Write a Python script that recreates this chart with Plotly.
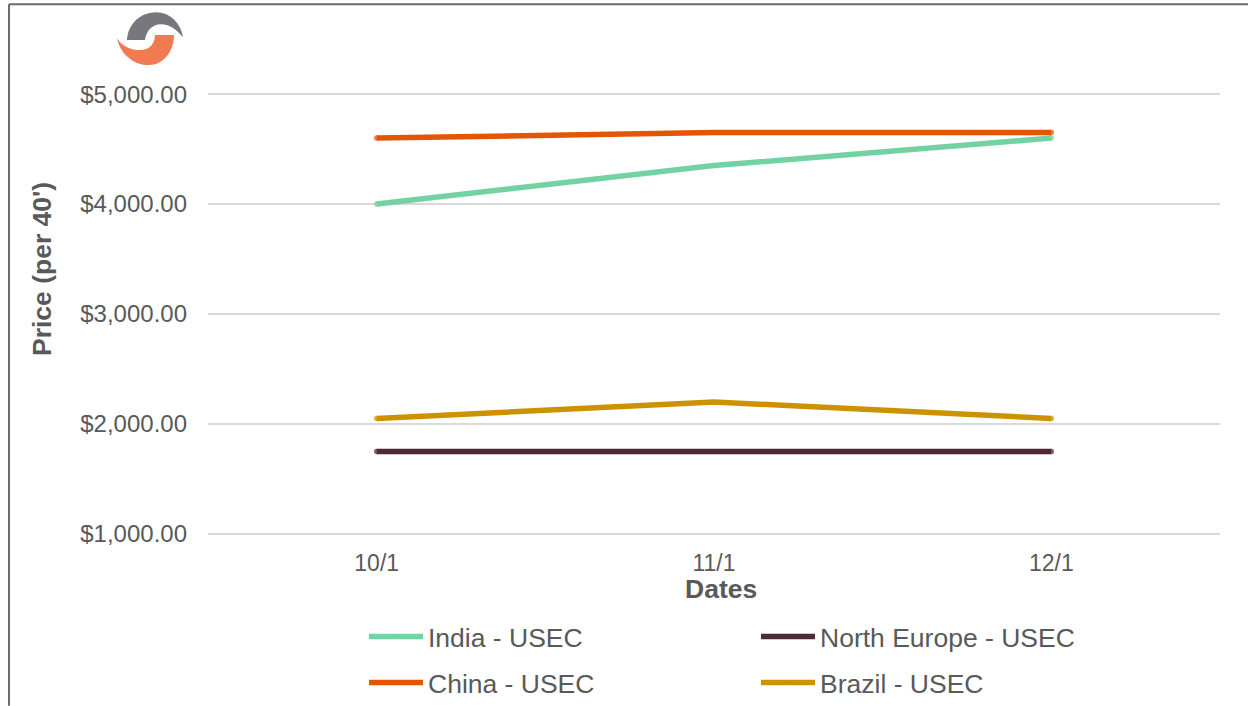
import plotly.graph_objects as go

# Freight rates by lane, per 40' container
dates = ["10/1", "11/1", "12/1"]
india_usec = [4000, 4350, 4600]
north_europe_usec = [1750, 1750, 1750]
china_usec = [4600, 4650, 4650]
brazil_usec = [2050, 2200, 2050]

WIDTH, HEIGHT = 1248, 706
# The value axis runs a little past 1,000 and 5,000 so both outer gridlines are drawn
Y_MIN, Y_MAX = 990, 5010
LEFT, RIGHT, TOP, BOTTOM = 208, 28, 92.9, 170.9
PLOT_W = WIDTH - LEFT - RIGHT
PLOT_H = HEIGHT - TOP - BOTTOM
TEXT = "#595959"
LINE_W = 5.5


def px(x):
    return (x - LEFT) / PLOT_W


def py(y):
    return 1 - (y - TOP) / PLOT_H


def path(template, points):
    return template.format(*[f"{px(x):.5f},{py(y):.5f}" for x, y in points])


fig = go.Figure()
for name, values, color, legend_row in [
    ("India - USEC", india_usec, "#72D2A1", "legend"),
    ("North Europe - USEC", north_europe_usec, "#4E2A38", "legend"),
    ("China - USEC", china_usec, "#E25606", "legend2"),
    ("Brazil - USEC", brazil_usec, "#CD9200", "legend2"),
]:
    # Same-width dots at both ends round off each line
    fig.add_trace(go.Scatter(
        x=dates, y=values, name=name, mode="lines+markers", legend=legend_row,
        line=dict(color=color, width=LINE_W),
        marker=dict(color=color, size=[LINE_W, 0, LINE_W], line=dict(width=0)),
    ))

logo_grey = path(
    "M {} C {} {} {} C {} {} {} C {} {} {} C {} {} {} L {} Z",
    [(127, 40), (128, 23), (141, 12), (156, 12),
     (171, 12), (181, 24), (183, 37),
     (177, 30), (170, 24), (161, 24),
     (152, 24), (146, 31), (145, 40),
     (127, 40)],
)
logo_orange = path(
    "M {} C {} {} {} C {} {} {} L {} C {} {} {} C {} {} {} Z",
    [(117, 38), (122, 46), (131, 50), (140, 50),
     (149, 50), (155, 44), (155, 35),
     (174, 35),
     (174, 52), (163, 65), (149, 65),
     (133, 65), (120, 53), (117, 38)],
)

row_legend = dict(
    orientation="h",
    x=px(364),
    xanchor="left",
    yanchor="top",
    entrywidth=323,
    entrywidthmode="pixels",
    itemwidth=54,
    font=dict(size=26.5, color=TEXT),
    bgcolor="rgba(0,0,0,0)",
)

fig.update_layout(
    width=WIDTH,
    height=HEIGHT,
    margin=dict(l=LEFT, r=RIGHT, t=TOP, b=BOTTOM, autoexpand=False),
    paper_bgcolor="white",
    plot_bgcolor="white",
    font=dict(family="Liberation Sans, Arial, sans-serif", color=TEXT, size=24),
    xaxis=dict(
        type="category",
        range=[-0.5, 2.5],
        showgrid=False,
        showline=False,
        ticks="",
        tickfont=dict(size=23),
        ticklabelstandoff=12,
    ),
    yaxis=dict(
        range=[Y_MIN, Y_MAX],
        tickvals=[1000, 2000, 3000, 4000, 5000],
        tickformat="$,.2f",
        showgrid=True,
        gridcolor="#D9D9D9",
        gridwidth=2,
        zeroline=False,
        showline=False,
        ticks="",
        ticklabelstandoff=20,
    ),
    showlegend=True,
    legend=dict(row_legend, y=py(613)),
    legend2=dict(row_legend, y=py(659)),
    annotations=[
        dict(text="<b>Dates</b>", xref="paper", yref="paper", x=px(721), y=py(589),
             xanchor="center", yanchor="middle", showarrow=False,
             font=dict(size=26.5, color=TEXT)),
        dict(text="<b>Price (per 40')</b>", xref="paper", yref="paper", x=px(42), y=py(269),
             xanchor="center", yanchor="middle", textangle=-90, showarrow=False,
             font=dict(size=26.5, color=TEXT)),
    ],
    shapes=[
        # Chart frame, open towards the right and bottom edges
        dict(type="line", xref="paper", yref="paper", x0=px(9), x1=px(9),
             y0=py(4), y1=py(706), line=dict(color="#6B6B6B", width=2), layer="below"),
        dict(type="line", xref="paper", yref="paper", x0=px(9), x1=px(1248),
             y0=py(4), y1=py(4), line=dict(color="#6B6B6B", width=2), layer="below"),
        # Company mark
        dict(type="path", xref="paper", yref="paper", path=logo_grey,
             fillcolor="#77777D", line=dict(width=0), layer="above"),
        dict(type="path", xref="paper", yref="paper", path=logo_orange,
             fillcolor="#F07B50", line=dict(width=0), layer="above"),
    ],
)

fig.write_html("out.html")
